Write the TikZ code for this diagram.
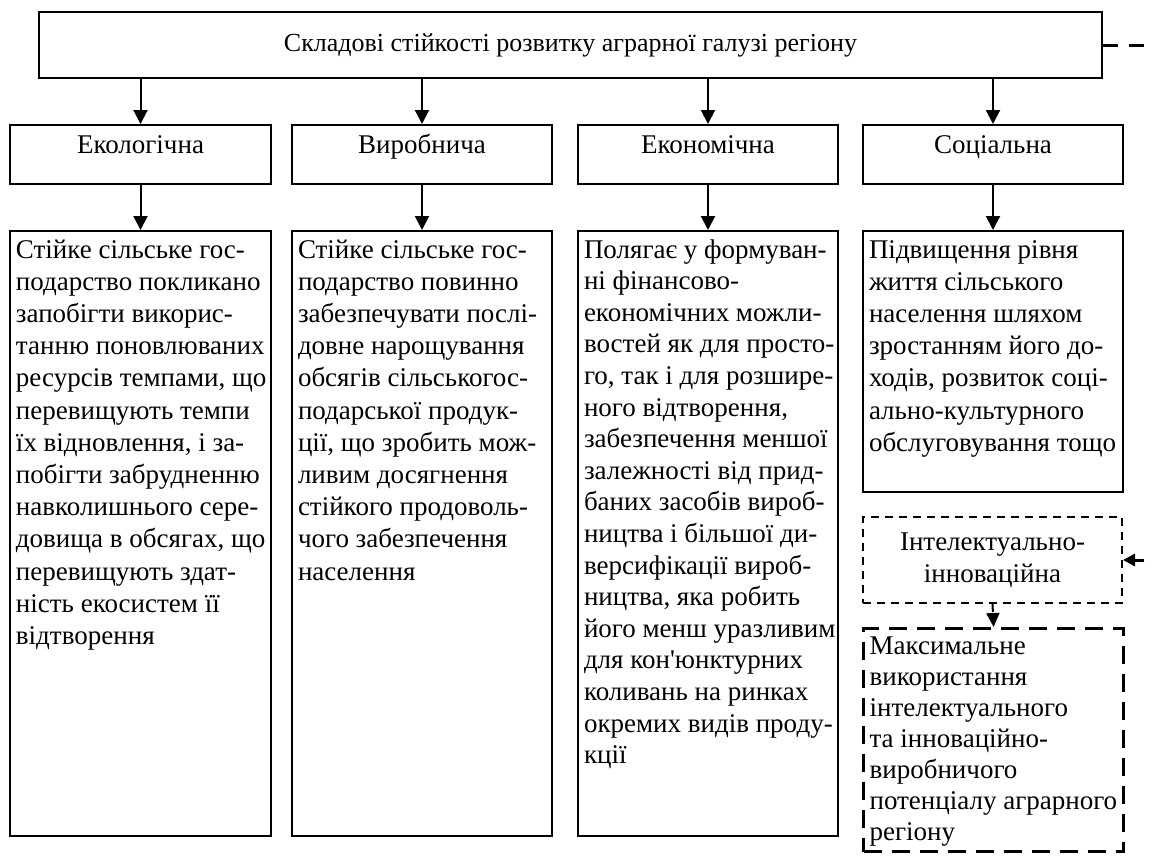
\documentclass[tikz,border=0pt]{standalone}
\usepackage{fontspec}
\setmainfont{Liberation Serif}
\newfontfamily\plainserif{Liberation Serif}
\usetikzlibrary{arrows.meta}
\newcommand{\colbox}[4]{\hspace*{3pt}\parbox[b][#2][t]{#1}{\raggedright\rule{0pt}{#3}#4}}
\tikzset{
  x=0.5pt, y=-0.5pt,
  every node/.style={font=\plainserif\fontsize{13.5}{16.1}\selectfont},
  solidbox/.style={draw, line width=1pt, inner sep=0pt, anchor=north west},
  headbox/.style={solidbox, text width=#1, align=center, text height=14pt, text depth=15.5pt},
  smalldash/.style={draw, line width=1pt, dash pattern=on 4pt off 3pt, inner sep=0pt, anchor=north west},
  bigdash/.style={draw, line width=1.6pt, dash pattern=on 9pt off 5pt, inner sep=0pt, anchor=north west},
  arr/.style={line width=1pt, -{Triangle[length=7pt,width=7pt]}},
  darr/.style={line width=1pt, dash pattern=on 4pt off 3pt, -{Triangle[length=7pt,width=6.5pt]}},
  linkline/.style={line width=1.5pt, dash pattern=on 7.5pt off 5.5pt, -{Triangle[length=6pt,width=6pt]}}
}
\begin{document}
\begin{tikzpicture}
\useasboundingbox (0,0) rectangle (1153,859);

\node[solidbox, minimum width=531.5pt, minimum height=33pt,
      font=\plainserif\fontsize{13}{16}\selectfont] (top) at (38,11)
  {Складові стійкості розвитку аграрної галузі регіону};

\node[headbox=130.5pt] (eco) at (9,124) {Екологічна};
\node[headbox=130pt] (vyr) at (291,124) {Виробнича};
\node[headbox=130pt] (ekn) at (577,124) {Економічна};
\node[headbox=130pt] (soc) at (862,124) {Соціальна};

\node[solidbox] (ecot) at (9,230) {\colbox{127.5pt}{302.5pt}{13.5pt}{%
Стійке сільське гос-\\
подарство покликано\\
запобігти викорис-\\
танню поновлюваних\\
ресурсів темпами, що\\
перевищують темпи\\
їх відновлення, і за-\\
побігти забрудненню\\
навколишнього сере-\\
довища в обсягах, що\\
перевищують здат-\\
ність екосистем її\\
відтворення}};

\node[solidbox] (vyrt) at (291,230) {\colbox{127pt}{302.5pt}{13.5pt}{%
Стійке сільське гос-\\
подарство повинно\\
забезпечувати послі-\\
довне нарощування\\
обсягів сільськогос-\\
подарської продук-\\
ції, що зробить мож-\\
ливим досягнення\\
стійкого продоволь-\\
чого забезпечення\\
населення}};

\node[solidbox, font=\plainserif\fontsize{13.5}{15.8}\selectfont] (eknt) at (577,230) {\colbox{127pt}{302.5pt}{13.5pt}{%
Полягає у формуван-\\
ні фінансово-\\
економічних можли-\\
востей як для просто-\\
го, так і для розшире-\\
ного відтворення,\\
забезпечення меншої\\
залежності від прид-\\
баних засобів вироб-\\
ництва і більшої ди-\\
версифікації вироб-\\
ництва, яка робить\\
його менш уразливим\\
для кон'юнктурних\\
коливань на ринках\\
окремих видів проду-\\
кції}};

\node[solidbox] (soct) at (862,230) {\colbox{127pt}{130.5pt}{13.5pt}{%
Підвищення рівня\\
життя сільського\\
населення шляхом\\
зростанням його до-\\
ходів, розвиток соці-\\
ально-культурного\\
обслуговування тощо}};

\node[smalldash, minimum width=129.5pt, minimum height=43pt, align=center] (intel) at (862,516)
  {Інтелектуально-\\інноваційна};

\node[bigdash, font=\plainserif\fontsize{13.5}{15.5}\selectfont] (maxb) at (862,627) {\colbox{127pt}{111.5pt}{13pt}{%
Максимальне\\
використання\\
інтелектуального\\
та інноваційно-\\
виробничого\\
потенціалу аграрного\\
регіону}};

\foreach \a/\b in {eco/ecot, vyr/vyrt, ekn/eknt, soc/soct}{
  \draw[arr] (top.south -| \a.north) -- (\a.north);
  \draw[arr] (\a.south) -- (\b.north);
}
\draw[darr] (intel.south) -- (maxb.north);
\draw[linkline] (top.east) -- ++(75,0) |- (intel.east);
\end{tikzpicture}
\end{document}
